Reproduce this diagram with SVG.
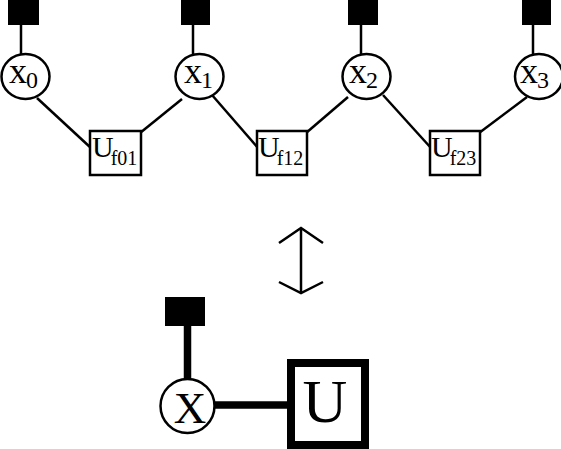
<svg xmlns="http://www.w3.org/2000/svg" width="561" height="449" viewBox="0 0 561 449">
<style>
.ln{stroke:#000;stroke-width:2.5;fill:none}
.nd{fill:#fff;stroke:#000;stroke-width:2.5}
.sq{fill:#000}
.t{font-family:"Liberation Serif","Times New Roman",serif;fill:#000}
.vx{font-size:36px}
.sub{font-size:24px}
.ub{font-size:30px}
.usub{font-size:20px}
.thk{stroke:#000;stroke-width:7.5;fill:none}
</style>
<rect width="561" height="449" fill="#fff"/>
<g id="connectors">
<line class="ln" x1="21" y1="24" x2="21" y2="54"/>
<line class="ln" x1="193" y1="24" x2="193" y2="54"/>
<line class="ln" x1="361" y1="24" x2="361" y2="54"/>
<line class="ln" x1="533" y1="24" x2="533" y2="54"/>
<line class="ln" x1="37" y1="98" x2="91" y2="148"/>
<line class="ln" x1="140" y1="133" x2="182" y2="99"/>
<line class="ln" x1="212" y1="95" x2="258" y2="148"/>
<line class="ln" x1="306" y1="133" x2="348" y2="97"/>
<line class="ln" x1="383" y1="95" x2="431" y2="148"/>
<line class="ln" x1="479" y1="133" x2="527" y2="97"/>
<line class="thk" x1="187.5" y1="326" x2="187.5" y2="384"/>
<line class="thk" x1="214" y1="405" x2="290" y2="405"/>
<polyline class="ln" points="279,243 301,228 323,243"/>
<line class="ln" x1="301" y1="228" x2="301" y2="293"/>
<polyline class="ln" points="279,282 301,293 323,282"/>
</g>
<g id="f0"><rect class="sq" x="8" y="0" width="31" height="25"/></g>
<g id="f1"><rect class="sq" x="181" y="0" width="29" height="25"/></g>
<g id="f2"><rect class="sq" x="348" y="0" width="30" height="25"/></g>
<g id="f3"><rect class="sq" x="522" y="0" width="29" height="25"/></g>
<g id="x0"><ellipse class="nd" cx="25.5" cy="76.5" rx="24" ry="22.5"/><text class="t vx" x="9" y="83">x<tspan class="sub" dx="-1" dy="5">0</tspan></text></g>
<g id="x1"><ellipse class="nd" cx="199.5" cy="76.5" rx="24" ry="22.5"/><text class="t vx" x="184" y="83">x<tspan class="sub" dx="-1" dy="5">1</tspan></text></g>
<g id="x2"><ellipse class="nd" cx="366.5" cy="76.5" rx="24" ry="22.5"/><text class="t vx" x="349" y="83">x<tspan class="sub" dx="-1" dy="5">2</tspan></text></g>
<g id="x3"><ellipse class="nd" cx="539" cy="76.5" rx="24" ry="22.5"/><text class="t vx" x="520" y="83">x<tspan class="sub" dx="-1" dy="5">3</tspan></text></g>
<g id="uf01"><rect class="nd" x="90" y="131" width="51" height="44"/><text class="t ub" x="92" y="157">U<tspan class="usub" dx="-3" dy="8">f01</tspan></text></g>
<g id="uf12"><rect class="nd" x="257" y="131" width="50" height="44"/><text class="t ub" x="258" y="157">U<tspan class="usub" dx="-3" dy="8">f12</tspan></text></g>
<g id="uf23"><rect class="nd" x="430" y="131" width="50" height="44"/><text class="t ub" x="431" y="157">U<tspan class="usub" dx="-3" dy="8">f23</tspan></text></g>
<g id="fb"><rect class="sq" x="165" y="297" width="40" height="29"/></g>
<g id="X"><circle cx="187.5" cy="406" r="27" fill="#fff" stroke="#000" stroke-width="2.5"/><text class="t" x="190" y="423" font-size="45" text-anchor="middle">X</text></g>
<g id="U"><rect x="291" y="363" width="74" height="82" fill="#fff" stroke="#000" stroke-width="8"/><text class="t" x="325" y="422" font-size="62" text-anchor="middle">U</text></g>
</svg>
